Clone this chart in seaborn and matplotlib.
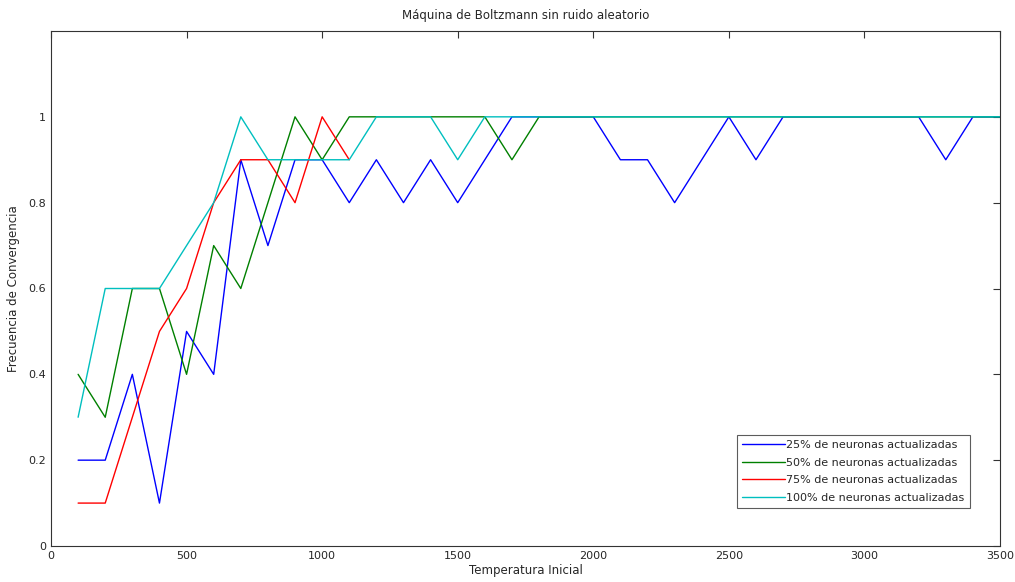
import pandas as pd
import numpy as np
import seaborn as sns
import matplotlib.pyplot as plt

# Temperatura inicial (100 .. 3500, paso 100)
temps = list(range(100, 3600, 100))

frec_25 = [0.2, 0.2, 0.4, 0.1, 0.5, 0.4, 0.9, 0.7, 0.9, 0.9,
           0.8, 0.9, 0.8, 0.9, 0.8, 0.9, 1.0, 1.0, 1.0, 1.0,
           0.9, 0.9, 0.8, 0.9, 1.0, 0.9, 1.0, 1.0, 1.0, 1.0,
           1.0, 1.0, 0.9, 1.0, 1.0]
frec_50 = [0.4, 0.3, 0.6, 0.6, 0.4, 0.7, 0.6, 0.8, 1.0, 0.9,
           1.0, 1.0, 1.0, 1.0, 1.0, 1.0, 0.9, 1.0, 1.0, 1.0,
           1.0, 1.0, 1.0, 1.0, 1.0, 1.0, 1.0, 1.0, 1.0, 1.0,
           1.0, 1.0, 1.0, 1.0, 1.0]
# la serie del 75% solo llega hasta 1100
frec_75 = [0.1, 0.1, 0.3, 0.5, 0.6, 0.8, 0.9, 0.9, 0.8, 1.0, 0.9]
frec_100 = [0.3, 0.6, 0.6, 0.6, 0.7, 0.8, 1.0, 0.9, 0.9, 0.9,
            0.9, 1.0, 1.0, 1.0, 0.9, 1.0, 1.0, 1.0, 1.0, 1.0,
            1.0, 1.0, 1.0, 1.0, 1.0, 1.0, 1.0, 1.0, 1.0, 1.0,
            1.0, 1.0, 1.0, 1.0, 1.0]

labels = ["25% de neuronas actualizadas", "50% de neuronas actualizadas",
          "75% de neuronas actualizadas", "100% de neuronas actualizadas"]
colors = ["#0000ff", "#008000", "#ff0000", "#00bfbf"]

frames = []
for lab, vals in zip(labels, [frec_25, frec_50, frec_75, frec_100]):
    frames.append(pd.DataFrame({"temp": temps[:len(vals)], "frec": vals, "serie": lab}))
df = pd.concat(frames, ignore_index=True)

sns.set_style("white")
plt.rcParams['font.family'] = ['DejaVu Sans']

fig = plt.figure(figsize=(10.15, 5.82), dpi=100)
ax = fig.add_axes([51 / 1015, 1 - 546 / 582, 949 / 1015, 515 / 582])

sns.lineplot(data=df, x="temp", y="frec", hue="serie", hue_order=labels,
             palette=colors, linewidth=1, ax=ax, estimator=None, sort=False)

ax.set_xlim(0, 3500)
ax.set_ylim(0, 1.2)
ax.set_xticks(np.arange(0, 3501, 500))
ax.set_yticks([0, 0.2, 0.4, 0.6, 0.8, 1.0])
ax.set_yticklabels(["0", "0.2", "0.4", "0.6", "0.8", "1"])
ax.tick_params(direction="in", top=True, right=True, length=5, labelsize=8,
               color="#333333", width=0.8)
for s in ax.spines.values():
    s.set_color("#333333")
    s.set_linewidth(0.8)

ax.set_title("Máquina de Boltzmann sin ruido aleatorio", fontsize=8.5, pad=9)
ax.set_xlabel("Temperatura Inicial", fontsize=8.5, labelpad=2)
ax.set_ylabel("Frecuencia de Convergencia", fontsize=8.5, labelpad=6)

leg = ax.legend(loc="lower right", bbox_to_anchor=(0.968, 0.074), fontsize=8,
                frameon=True, fancybox=False, borderpad=0.45, handlelength=3.9,
                handletextpad=0.1, labelspacing=0.68, borderaxespad=0)
leg.get_frame().set_edgecolor("#333333")
leg.get_frame().set_linewidth(0.8)

fig.savefig("out.png", dpi=100)
